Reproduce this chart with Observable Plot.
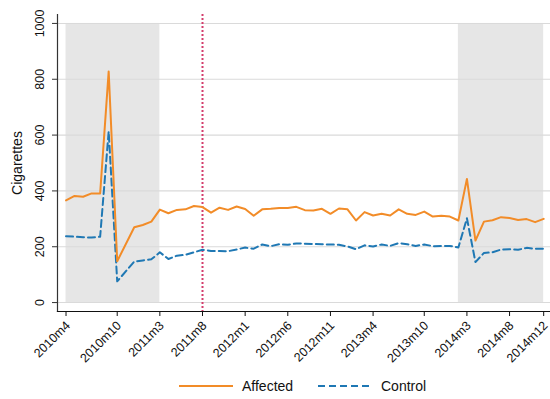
<!DOCTYPE html>
<html>
<head>
<meta charset="utf-8">
<script src="https://cdn.jsdelivr.net/npm/d3@7"></script>
<script src="https://cdn.jsdelivr.net/npm/@observablehq/plot@0.6"></script>
<style>
  html, body { margin: 0; padding: 0; background: #fff; }
  body { width: 550px; height: 399px; overflow: hidden; font-family: "Liberation Sans", Arial, Helvetica, sans-serif; }
  #chart { position: relative; width: 550px; }
  #legend { position: relative; width: 550px; height: 41px; }
  #legend svg { position: absolute; left: 0; top: 0; }
</style>
</head>
<body>
<div id="chart"></div>
<div id="legend"></div>
<script>
// Months (2010m11 is missing in the source series)
const months = [
  "2010m4","2010m5","2010m6","2010m7","2010m8","2010m9","2010m10","2010m12",
  "2011m1","2011m2","2011m3","2011m4","2011m5","2011m6","2011m7","2011m8","2011m9","2011m10","2011m11","2011m12",
  "2012m1","2012m2","2012m3","2012m4","2012m5","2012m6","2012m7","2012m8","2012m9","2012m10","2012m11","2012m12",
  "2013m1","2013m2","2013m3","2013m4","2013m5","2013m6","2013m7","2013m8","2013m9","2013m10","2013m11","2013m12",
  "2014m1","2014m2","2014m3","2014m4","2014m5","2014m6","2014m7","2014m8","2014m9","2014m10","2014m11","2014m12"
];
const affected = [
  366,382,379,391,391,828,148,270,
  278,290,333,320,332,334,346,342,322,340,332,344,
  335,311,334,336,339,339,343,331,330,336,318,337,
  334,294,324,312,318,312,334,318,314,326,308,311,
  308,294,443,222,290,295,306,303,296,299,288,300
];
const control = [
  238,236,234,233,236,613,76,147,
  151,155,180,156,168,171,180,189,185,185,184,190,
  197,193,208,202,209,207,212,211,210,209,208,207,
  201,191,205,201,208,203,213,209,203,208,202,203,
  203,197,302,145,178,180,190,191,189,196,193,193
];
const xTickLabels = ["2010m4","2010m10","2011m3","2011m8","2012m1","2012m6","2012m11","2013m4","2013m10","2014m3","2014m8","2014m12"];
const yTicks = [0,200,400,600,800,1000];
const shadedPeriods = [["2010m4","2011m3"],["2014m2","2014m12"]];
const eventMonth = "2011m8";
const seriesNames = ["Affected","Control"];

// month label -> index (months since 2010m4)
const idx = (s) => { const [y, m] = s.split("m").map(Number); return (y - 2010) * 12 + (m - 4); };

const rows = months.flatMap((m, i) => [
  {t: idx(m), v: affected[i], s: seriesNames[0]},
  {t: idx(m), v: control[i], s: seriesNames[1]}
]);
const shades = shadedPeriods.map(([a, b]) => ({x1: idx(a), x2: idx(b)}));

const ORANGE = "#f28c28", BLUE = "#1f78b4";
const FONT = "Liberation Sans, Arial, Helvetica, sans-serif";

const plot = Plot.plot({
  width: 550,
  height: 358,
  marginLeft: 57,
  marginRight: 0,
  marginTop: 14,
  marginBottom: 47,
  style: {fontFamily: FONT, background: "#fff", overflow: "visible"},
  x: {type: "linear", domain: [-1, 56.8]},
  y: {domain: [-32, 1032]},
  marks: [
    Plot.rect(shades, {x1: "x1", x2: "x2", y1: 0, y2: 1000, fill: "#e6e6e6"}),
    Plot.ruleY(yTicks, {stroke: "#dadada", strokeWidth: 1.1}),
    Plot.ruleX([idx(eventMonth)], {stroke: "#d43d6c", strokeWidth: 2, strokeDasharray: "2,2"}),
    Plot.line(rows.filter(d => d.s === "Control"), {x: "t", y: "v", stroke: BLUE, strokeWidth: 2, strokeDasharray: "7,4"}),
    Plot.line(rows.filter(d => d.s === "Affected"), {x: "t", y: "v", stroke: ORANGE, strokeWidth: 2}),
    Plot.frame({anchor: "left", stroke: "#333", strokeWidth: 1.2}),
    Plot.frame({anchor: "bottom", stroke: "#111", strokeWidth: 1.2}),
    Plot.axisY({ticks: yTicks, tickSize: 5, tickFormat: () => "", label: null, stroke: "#333"}),
    Plot.axisX({ticks: xTickLabels.map(idx), tickSize: 5, tickFormat: () => "", label: null, stroke: "#111"}),
    Plot.text(yTicks, {y: d => d, frameAnchor: "left", dx: -18, rotate: -90, textAnchor: "middle", lineAnchor: "middle", text: d => String(d), fontSize: 12.5, fill: "#111"}),
    Plot.text(xTickLabels, {x: d => idx(d), frameAnchor: "bottom", dx: 2, dy: 12, rotate: -45, textAnchor: "end", lineAnchor: "middle", text: d => d, fontSize: 12.5, fill: "#111"}),
    Plot.text(["Cigarettes"], {frameAnchor: "left", dx: -40, rotate: -90, textAnchor: "middle", lineAnchor: "middle", text: d => d, fontSize: 14, fill: "#111"})
  ]
});
document.getElementById("chart").appendChild(plot);

// Legend (below the plot)
const lg = d3.select("#legend").append("svg").attr("width", 550).attr("height", 41);
const items = [
  {name: seriesNames[0], color: ORANGE, dash: null, x: 179},
  {name: seriesNames[1], color: BLUE, dash: "7,4", x: 318}
];
items.forEach(it => {
  lg.append("line").attr("x1", it.x).attr("x2", it.x + 54).attr("y1", 28).attr("y2", 28)
    .attr("stroke", it.color).attr("stroke-width", 2).attr("stroke-dasharray", it.dash);
  lg.append("text").attr("x", it.x + 63).attr("y", 28).attr("dy", "0.35em")
    .attr("font-family", FONT).attr("font-size", 14).attr("fill", "#111").text(it.name);
});
</script>
</body>
</html>
